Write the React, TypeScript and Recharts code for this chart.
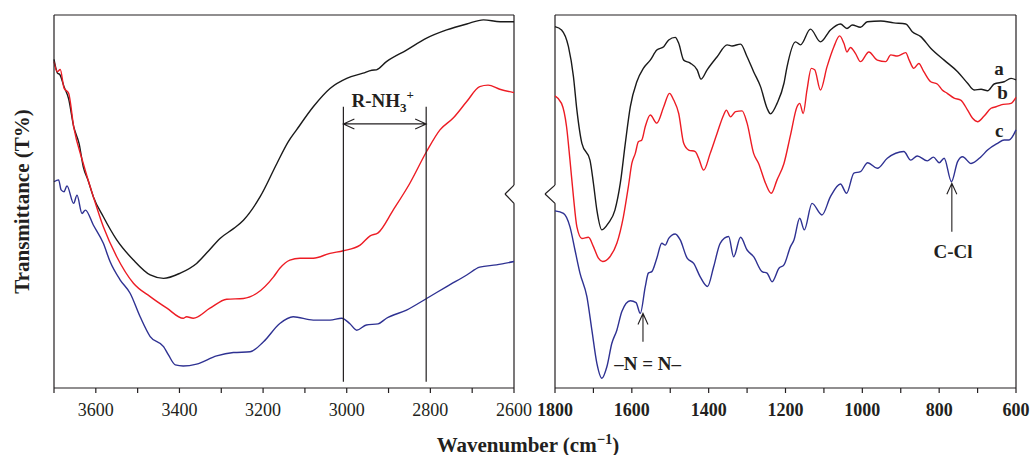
import React from 'react'
import { LineChart, Line, XAxis, YAxis, ReferenceLine, ReferenceDot } from 'recharts'

type Pt = [number, number]

// left panel, 3700–2600 cm-1 (wavenumber, transmittance in arbitrary units)
const leftA: Pt[] = [
    [3700, 88.1], [3692, 84.5], [3686, 84.0], [3676, 80.8], [3665, 77.5], [3653, 70.1],
    [3640, 65.5], [3630, 59.3], [3618, 55.5], [3606, 51.3], [3582, 45.9], [3550, 39.7],
    [3510, 34.3], [3470, 30.3], [3438, 29.4], [3398, 30.8], [3359, 33.4], [3330, 36.8],
    [3303, 40.1], [3270, 42.8], [3247, 45.0], [3207, 51.3], [3167, 60.2], [3140, 66.0],
    [3120, 69.2], [3080, 75.4], [3040, 80.3], [3000, 83.0], [2961, 84.4], [2940, 85.2],
    [2929, 85.3], [2905, 87.5], [2857, 90.6], [2809, 93.8], [2761, 96.0], [2713, 97.6],
    [2673, 98.7], [2633, 98.2], [2600, 98.2]
]

const leftB: Pt[] = [
    [3700, 87.5], [3692, 84.8], [3685, 85.4], [3676, 80.4], [3665, 79.0], [3653, 70.1],
    [3630, 60.2], [3606, 51.3], [3582, 43.2], [3550, 35.2], [3510, 28.1], [3470, 24.5],
    [3430, 21.4], [3391, 18.7], [3383, 19.1], [3367, 18.7], [3327, 21.4], [3287, 23.8],
    [3247, 24.0], [3215, 25.4], [3175, 29.8], [3160, 32.1], [3136, 34.3], [3112, 34.8],
    [3080, 34.8], [3040, 36.1], [3008, 36.8], [2968, 38.3], [2944, 40.8], [2925, 41.6],
    [2889, 47.7], [2849, 54.9], [2809, 63.4], [2777, 69.2], [2746, 72.3], [2713, 76.8],
    [2682, 80.8], [2662, 81.2], [2634, 80.1], [2600, 79.2]
]

const leftC: Pt[] = [
    [3700, 55.3], [3689, 55.8], [3683, 53.1], [3676, 52.6], [3669, 54.2], [3653, 49.5],
    [3645, 51.7], [3633, 46.8], [3625, 47.7], [3606, 43.7], [3582, 38.8], [3566, 33.9],
    [3542, 29.0], [3518, 25.4], [3494, 19.1], [3470, 13.8], [3438, 11.1], [3426, 8.8],
    [3410, 6.2], [3391, 5.9], [3359, 6.4], [3311, 8.6], [3271, 9.5], [3231, 9.7],
    [3199, 12.4], [3160, 17.3], [3128, 19.1], [3080, 18.2], [3040, 18.2], [3012, 18.7],
    [2993, 17.3], [2976, 15.5], [2953, 16.9], [2925, 17.2], [2905, 18.7], [2857, 20.9],
    [2809, 24.0], [2761, 27.2], [2713, 30.3], [2682, 32.4], [2642, 33.0], [2600, 33.9]
]

// right panel, 1800–600 cm-1
const rightA: Pt[] = [
    [1800, 96.9], [1783, 96.0], [1765, 91.5], [1752, 83.5], [1743, 74.5], [1730, 65.6],
    [1709, 61.1], [1700, 54.9], [1691, 47.7], [1678, 42.4], [1661, 44.2], [1644, 47.7],
    [1630, 54.9], [1617, 65.6], [1604, 75.4], [1587, 82.1], [1570, 85.7], [1552, 87.9],
    [1535, 90.6], [1517, 91.5], [1504, 93.3], [1487, 94.0], [1478, 92.4], [1465, 87.9],
    [1448, 87.1], [1430, 85.3], [1420, 82.8], [1404, 85.3], [1378, 88.8], [1352, 92.0],
    [1339, 91.7], [1317, 92.2], [1300, 88.8], [1283, 84.8], [1265, 80.8], [1248, 75.0],
    [1239, 73.5], [1222, 76.3], [1204, 81.7], [1196, 86.1], [1174, 92.8], [1161, 92.0],
    [1135, 96.2], [1109, 92.8], [1083, 96.0], [1057, 97.6], [1040, 96.4], [1026, 97.3],
    [1005, 96.7], [987, 98.2], [952, 98.4], [918, 97.9], [887, 97.6], [870, 95.5],
    [848, 94.2], [822, 91.1], [787, 87.9], [752, 84.8], [726, 81.7], [709, 79.9],
    [691, 80.1], [674, 79.7], [657, 81.5], [631, 82.1], [613, 83.0], [600, 82.6]
]

const rightB: Pt[] = [
    [1800, 78.3], [1783, 76.3], [1770, 70.1], [1761, 61.1], [1752, 51.3], [1743, 43.2],
    [1730, 40.1], [1713, 40.4], [1700, 37.9], [1687, 34.8], [1676, 33.9], [1657, 35.2],
    [1639, 38.8], [1622, 45.9], [1609, 54.0], [1600, 60.2], [1591, 62.9], [1583, 66.0],
    [1574, 66.5], [1565, 70.1], [1552, 73.2], [1535, 71.0], [1517, 75.4], [1502, 79.0],
    [1491, 77.2], [1478, 73.6], [1465, 65.6], [1452, 63.8], [1435, 63.4], [1426, 61.6],
    [1413, 58.4], [1396, 62.9], [1378, 68.3], [1361, 73.2], [1354, 74.5], [1343, 72.7],
    [1330, 74.1], [1313, 74.3], [1300, 71.0], [1283, 62.9], [1270, 60.2], [1252, 54.9],
    [1237, 52.2], [1222, 55.8], [1204, 60.2], [1187, 67.8], [1170, 75.4], [1163, 76.3],
    [1154, 73.6], [1144, 79.9], [1133, 85.7], [1124, 85.3], [1109, 79.9], [1092, 86.1],
    [1074, 91.5], [1059, 94.4], [1048, 92.4], [1040, 90.1], [1031, 91.3], [1018, 89.7],
    [1005, 87.5], [983, 90.1], [961, 87.9], [939, 87.5], [926, 89.3], [909, 89.0],
    [887, 89.9], [878, 87.9], [866, 85.7], [853, 87.0], [840, 84.8], [822, 82.1],
    [805, 81.5], [792, 79.9], [779, 79.0], [761, 77.7], [744, 77.2], [726, 74.5],
    [713, 72.3], [700, 71.4], [683, 72.9], [665, 75.0], [652, 75.4], [639, 75.9],
    [613, 76.3], [600, 77.9]
]

const rightC: Pt[] = [
    [1800, 47.5], [1778, 46.8], [1761, 43.2], [1748, 37.0], [1735, 30.8], [1717, 24.5],
    [1704, 15.5], [1691, 6.6], [1678, 2.6], [1665, 5.7], [1652, 12.0], [1639, 15.5],
    [1626, 20.5], [1604, 23.4], [1589, 22.9], [1578, 20.0], [1565, 27.2], [1557, 30.8],
    [1548, 31.2], [1535, 34.8], [1522, 38.8], [1513, 38.3], [1504, 40.1], [1487, 41.3],
    [1474, 39.7], [1456, 34.8], [1439, 33.4], [1422, 29.8], [1403, 27.2], [1387, 32.5],
    [1370, 38.8], [1348, 40.6], [1335, 35.2], [1317, 40.4], [1300, 37.0], [1283, 35.2],
    [1261, 31.2], [1248, 30.8], [1235, 28.5], [1217, 32.1], [1204, 33.0], [1187, 37.9],
    [1178, 39.7], [1163, 45.5], [1151, 42.4], [1131, 49.5], [1105, 46.4], [1083, 51.3],
    [1057, 54.7], [1041, 52.2], [1022, 57.6], [1005, 58.0], [986, 60.4], [961, 58.9],
    [935, 61.6], [892, 63.4], [874, 61.1], [857, 62.2], [831, 60.9], [815, 61.9],
    [800, 60.4], [787, 61.6], [768, 55.3], [752, 60.7], [739, 62.0], [717, 60.2],
    [691, 62.0], [674, 63.8], [648, 65.6], [631, 66.5], [618, 66.5], [600, 69.2]
]

const leftTicks = [3700, 3600, 3500, 3400, 3300, 3200, 3100, 3000, 2900, 2800, 2700, 2600]
const rightTicks = [1800, 1700, 1600, 1500, 1400, 1300, 1200, 1100, 1000, 900, 800, 700, 600]

const INK = '#231f20'
const BLACK = '#1a1a1a'
const RED = '#ed1c24'
const BLUE = '#2e3192'
const FONT = "'Liberation Serif', 'Times New Roman', Times, serif"

// axis break "<" on the inner frame edges
const BREAK_LOW = 49.5
const BREAK_MID = 52.0
const BREAK_HIGH = 54.4
const LEFT_BREAK_X = 2621.5
const RIGHT_BREAK_X = 1826

const rows = (pts: Pt[]) => pts.map(([wn, t]) => ({ wn, t }))

const arrowShape = (both: boolean) => (p: any) => {
    const { x1, y1, x2, y2 } = p
    const head = (tx: number, ty: number, fx: number, fy: number) => {
        const len = Math.hypot(tx - fx, ty - fy) || 1
        const ux = (tx - fx) / len
        const uy = (ty - fy) / len
        const bx = tx - ux * 11
        const by = ty - uy * 11
        return `M${bx - uy * 5},${by + ux * 5} L${tx},${ty} L${bx + uy * 5},${by - ux * 5}`
    }
    let d = `M${x1},${y1} L${x2},${y2} ` + head(x2, y2, x1, y1)
    if (both) d += ' ' + head(x1, y1, x2, y2)
    return <path d={d} fill="none" stroke={INK} strokeWidth={1.1} />
}

const textShape = (content: React.ReactNode) => (p: any) => (
    <text x={p.cx} y={p.cy} textAnchor="middle" fontFamily={FONT} fontWeight="bold" fontSize={19} fill={INK}>
        {content}
    </text>
)

const YTitle = (props: any) => {
    const vb = props.viewBox || { x: 0, y: 15, width: 54, height: 373 }
    const cx = vb.x + 22
    const cy = vb.y + vb.height / 2
    return (
        <text x={cx} y={cy} transform={`rotate(-90 ${cx} ${cy})`} textAnchor="middle" dominantBaseline="central"
            fontFamily={FONT} fontWeight="bold" fontSize={21} fill={INK}>
            Transmittance (T%)
        </text>
    )
}

const frame = { stroke: INK, strokeWidth: 1.2 }

export default function App() {
    const lineProps = { type: 'monotone' as const, dataKey: 't', dot: false, strokeWidth: 1.4, isAnimationActive: false }

    return (
        <div style={{ position: 'absolute', left: 0, top: 0, width: 1030, height: 455, background: '#fff' }}>

            <div style={{ position: 'absolute', left: 0, top: 0 }}>
                <LineChart width={545} height={455} margin={{ top: 15, right: 31, bottom: 0, left: 0 }}>
                    <XAxis type="number" dataKey="wn" domain={[2600, 3700]} reversed ticks={leftTicks} interval={0}
                        height={67} tickSize={5} tickMargin={10}
                        tickFormatter={(v: number) => (v % 200 === 0 ? String(v) : '')}
                        tick={{ fontSize: 18, fontFamily: FONT, fill: INK }}
                        axisLine={frame} tickLine={frame} />
                    <YAxis type="number" domain={[0, 100]} width={54} tick={false} tickLine={false}
                        axisLine={frame} label={<YTitle />} />

                    <ReferenceLine y={100} {...frame} />
                    <ReferenceLine segment={[{ x: 2600, y: 0 }, { x: 2600, y: BREAK_LOW }]} {...frame} ifOverflow="visible" />
                    <ReferenceLine segment={[{ x: 2600, y: BREAK_LOW }, { x: LEFT_BREAK_X, y: BREAK_MID }]} {...frame} ifOverflow="visible" />
                    <ReferenceLine segment={[{ x: LEFT_BREAK_X, y: BREAK_MID }, { x: 2600, y: BREAK_HIGH }]} {...frame} ifOverflow="visible" />
                    <ReferenceLine segment={[{ x: 2600, y: BREAK_HIGH }, { x: 2600, y: 100 }]} {...frame} ifOverflow="visible" />

                    <Line data={rows(leftA)} stroke={BLACK} {...lineProps} />
                    <Line data={rows(leftB)} stroke={RED} {...lineProps} />
                    <Line data={rows(leftC)} stroke={BLUE} {...lineProps} />

                    <ReferenceLine segment={[{ x: 3008, y: 1.7 }, { x: 3008, y: 75.4 }]} stroke={INK} strokeWidth={1.2} />
                    <ReferenceLine segment={[{ x: 2810, y: 1.7 }, { x: 2810, y: 75.4 }]} stroke={INK} strokeWidth={1.2} />
                    <ReferenceLine segment={[{ x: 3008, y: 70.8 }, { x: 2810, y: 70.8 }]} shape={arrowShape(true)} />
                    <ReferenceDot x={2914} y={75.4} shape={textShape(
                        <>R-NH<tspan dy={5} fontSize={13}>3</tspan><tspan dy={-13} fontSize={13}>+</tspan></>
                    )} />
                </LineChart>
            </div>

            <div style={{ position: 'absolute', left: 520, top: 0 }}>
                <LineChart width={510} height={455} margin={{ top: 15, right: 14, bottom: 0, left: 35 }}>
                    <XAxis type="number" dataKey="wn" domain={[600, 1800]} reversed ticks={rightTicks} interval={0}
                        height={67} tickSize={5} tickMargin={10}
                        tickFormatter={(v: number) => (v % 200 === 0 ? String(v) : '')}
                        tick={{ fontSize: 18, fontFamily: FONT, fontWeight: 'bold', fill: INK }}
                        axisLine={frame} tickLine={frame} />
                    <YAxis type="number" domain={[0, 100]} hide />

                    <ReferenceLine y={100} {...frame} />
                    <ReferenceLine x={600} {...frame} />
                    <ReferenceLine segment={[{ x: 1800, y: 0 }, { x: 1800, y: BREAK_LOW }]} {...frame} ifOverflow="visible" />
                    <ReferenceLine segment={[{ x: 1800, y: BREAK_LOW }, { x: RIGHT_BREAK_X, y: BREAK_MID }]} {...frame} ifOverflow="visible" />
                    <ReferenceLine segment={[{ x: RIGHT_BREAK_X, y: BREAK_MID }, { x: 1800, y: BREAK_HIGH }]} {...frame} ifOverflow="visible" />
                    <ReferenceLine segment={[{ x: 1800, y: BREAK_HIGH }, { x: 1800, y: 100 }]} {...frame} ifOverflow="visible" />

                    <Line data={rows(rightA)} stroke={BLACK} {...lineProps} />
                    <Line data={rows(rightB)} stroke={RED} {...lineProps} />
                    <Line data={rows(rightC)} stroke={BLUE} {...lineProps} />

                    <ReferenceLine segment={[{ x: 1571, y: 12.4 }, { x: 1571, y: 20.0 }]} shape={arrowShape(false)} />
                    <ReferenceLine segment={[{ x: 767, y: 41.9 }, { x: 767, y: 54.9 }]} shape={arrowShape(false)} />
                    <ReferenceDot x={1559} y={4.8} shape={textShape('–N = N–')} />
                    <ReferenceDot x={764} y={34.8} shape={textShape('C-Cl')} />
                    <ReferenceDot x={644} y={83.9} shape={textShape('a')} />
                    <ReferenceDot x={635} y={77.4} shape={textShape('b')} />
                    <ReferenceDot x={644} y={67.3} shape={textShape('c')} />
                </LineChart>
            </div>

            <div style={{
                position: 'absolute', left: 378, top: 435, width: 300, textAlign: 'center',
                fontFamily: FONT, fontWeight: 'bold', fontSize: 21, lineHeight: '21px', color: INK
            }}>
                Wavenumber (cm<sup style={{ fontSize: '0.7em', lineHeight: 0 }}>−1</sup>)
            </div>
        </div>
    )
}
